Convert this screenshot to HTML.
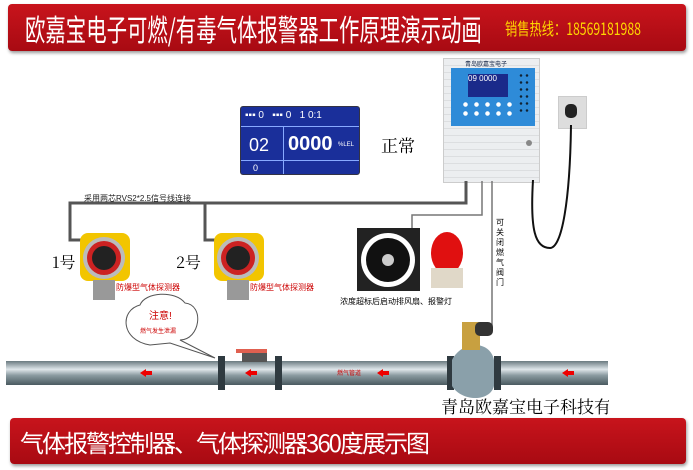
<!DOCTYPE html>
<html><head><meta charset="utf-8"><style>
body{margin:0;width:693px;height:470px;background:#fff;position:relative;overflow:hidden;font-family:"Liberation Sans","Noto Sans CJK SC",sans-serif}
.a{position:absolute}
.ban{background:linear-gradient(#c8141c,#a80a12);border-radius:4px;box-shadow:1px 2px 3px #999;color:#fff}
</style></head><body>
<div class="a ban" style="left:8px;top:4px;width:678px;height:47px"></div>
<div class="a" style="left:25px;top:6px;font-size:30px;color:#fff;font-family:'Noto Sans CJK SC',sans-serif;white-space:nowrap;transform:scaleX(0.68);transform-origin:left">欧嘉宝电子可燃/有毒气体报警器工作原理演示动画</div>
<div class="a" style="left:505px;top:15px;font-size:17px;color:#ffd700;font-family:'Noto Sans CJK SC',sans-serif;white-space:nowrap;transform:scaleX(0.72);transform-origin:left">销售热线：18569181988</div>

<!-- LCD -->
<div class="a" style="left:240px;top:106px;width:118px;height:67px;background:#1a2f9a;border:1px solid #334;border-radius:3px;color:#fff;font-size:6px">
<div class="a" style="left:0;top:19px;width:118px;height:1px;background:#8af"></div>
<div class="a" style="left:0;top:53px;width:118px;height:1px;background:#8af"></div>
<div class="a" style="left:42px;top:19px;width:1px;height:48px;background:#8af"></div>
<div class="a" style="left:4px;top:3px;font-size:10px">▪▪▪ 0 &nbsp;&nbsp;▪▪▪ 0 &nbsp;&nbsp;1 0:1</div>
<div class="a" style="left:8px;top:28px;font-size:18px">02</div>
<div class="a" style="left:47px;top:26px;font-size:20px;font-weight:bold">0000</div>
<div class="a" style="left:97px;top:35px">%LEL</div>
<div class="a" style="left:12px;top:56px;font-size:9px">0</div>
</div>
<div class="a" style="left:381px;top:132px;font-size:17px;font-family:'Noto Serif CJK SC',serif">正常</div>

<!-- controller -->
<div class="a" style="left:443px;top:58px;width:95px;height:123px;background:#eceef0;border:1px solid #ccc;background-image:repeating-linear-gradient(#eceef0 0 6px,#dcdee0 6px 7px)"></div>
<div class="a" style="left:451px;top:68px;width:84px;height:58px;background:#2e8bd8"></div>
<div class="a" style="left:465px;top:59px;font-size:6px;color:#124">青岛欧嘉宝电子</div>
<div class="a" style="left:468px;top:74px;width:40px;height:23px;background:#1a2a8a;color:#fff;font-size:8px">09 0000</div>
<div class="a" style="left:460px;top:100px;width:52px;height:18px;background:radial-gradient(circle,#fff 2px,transparent 2.5px) 0 0/11px 9px"></div>
<div class="a" style="left:518px;top:72px;width:12px;height:40px;background:radial-gradient(circle,#123 1px,transparent 1.5px) 0 0/6px 7px"></div>
<div class="a" style="left:526px;top:140px;width:6px;height:6px;border-radius:50%;background:#888"></div>
<!-- socket -->
<div class="a" style="left:558px;top:96px;width:27px;height:31px;background:#ddd;border:1px solid #ccc"></div>
<div class="a" style="left:565px;top:104px;width:12px;height:14px;border-radius:5px;background:#222"></div>

<svg class="a" style="left:0;top:0" width="693" height="470">
<path d="M533 180 C530 230,535 248,550 248 C562 248,570 200,571 125" fill="none" stroke="#111" stroke-width="2"/>
<path d="M466 181 V203 H70 V240 H82 M205 203 V240 H216" fill="none" stroke="#555" stroke-width="3"/>
<path d="M482 181 V215 H412 V228" fill="none" stroke="#777" stroke-width="1.5"/>
<path d="M492 181 V330 H486" fill="none" stroke="#777" stroke-width="1.5"/>
<defs><linearGradient id="p" x1="0" y1="0" x2="0" y2="1"><stop offset="0" stop-color="#6a7a80"/><stop offset="0.35" stop-color="#dfe6ea"/><stop offset="0.6" stop-color="#8a9aa0"/><stop offset="1" stop-color="#4a5a60"/></linearGradient></defs>
<rect x="6" y="361" width="602" height="24" fill="url(#p)"/>
<g fill="#2f3a40"><rect x="218" y="356" width="7" height="34"/><rect x="275" y="356" width="7" height="34"/><rect x="447" y="356" width="7" height="34"/><rect x="494" y="356" width="7" height="34"/></g>
<rect x="242" y="352" width="25" height="10" fill="#555"/><rect x="236" y="349" width="31" height="4" fill="#e06050"/>
<path d="M452 360 C462 340,490 340,494 360 V386 C490 402,462 402,452 386Z" fill="#8aa0aa"/>
<rect x="462" y="322" width="18" height="28" fill="#c8a040"/><rect x="475" y="322" width="18" height="14" rx="5" fill="#333"/>
<g fill="#e00"><path d="M140 373 l6 -4 v8z"/><rect x="145" y="371" width="7" height="4"/><path d="M245 373 l6 -4 v8z"/><rect x="250" y="371" width="7" height="4"/><path d="M377 373 l6 -4 v8z"/><rect x="382" y="371" width="7" height="4"/><path d="M562 373 l6 -4 v8z"/><rect x="567" y="371" width="7" height="4"/></g>
<text x="337" y="375" font-size="6" fill="#c00">燃气管道</text>
<path d="M150 345 C120 340,120 310,140 305 C145 292,175 290,185 303 C205 305,200 340,180 340 L215 358 L170 343Z" fill="#fff" stroke="#555"/>
<g id="d"><rect x="80" y="233" width="50" height="48" rx="8" fill="#f2c500"/><circle cx="104" cy="258" r="21" fill="#bbb"/><circle cx="104" cy="258" r="17" fill="#c22"/><circle cx="104" cy="258" r="12" fill="#222"/><rect x="93" y="280" width="22" height="20" fill="#999"/></g>
<use href="#d" x="134"/>
<rect x="357" y="228" width="63" height="63" fill="#222"/><circle cx="388" cy="260" r="27" fill="#fff"/><circle cx="388" cy="260" r="22" fill="#111"/><circle cx="388" cy="260" r="6" fill="#ccc"/>
<ellipse cx="447" cy="253" rx="16" ry="21" fill="#e01010"/><rect x="431" y="268" width="32" height="20" fill="#e0d8c8"/>
</svg>
<div class="a" style="left:84px;top:193px;font-size:8px;color:#222">采用两芯RVS2*2.5信号线连接</div>
<div class="a" style="left:52px;top:250px;font-size:16px;font-family:'Noto Serif CJK SC',serif">1号</div>
<div class="a" style="left:176px;top:250px;font-size:16px;font-family:'Noto Serif CJK SC',serif">2号</div>
<div class="a" style="left:116px;top:282px;font-size:8px;color:#c00">防爆型气体探测器</div>
<div class="a" style="left:250px;top:282px;font-size:8px;color:#c00">防爆型气体探测器</div>
<div class="a" style="left:340px;top:296px;font-size:8px">浓度超标后启动排风扇、报警灯</div>
<div class="a" style="left:496px;top:218px;font-size:8px;width:9px;line-height:10px">可关闭燃气阀门</div>
<div class="a" style="left:149px;top:307px;font-size:10px;color:#c00">注意!</div>
<div class="a" style="left:140px;top:326px;font-size:6px;color:#c00">燃气发生泄漏</div>
<div class="a" style="left:441px;top:393px;font-size:17px;font-family:'Noto Serif CJK SC',serif;width:168px;overflow:hidden;white-space:nowrap">青岛欧嘉宝电子科技有</div>
<div class="a ban" style="left:10px;top:418px;width:676px;height:46px"></div>
<div class="a" style="left:20px;top:424px;font-size:24px;color:#fff;font-family:'Noto Sans CJK SC',sans-serif;letter-spacing:-2px">气体报警控制器、气体探测器360度展示图</div>
</body></html>
